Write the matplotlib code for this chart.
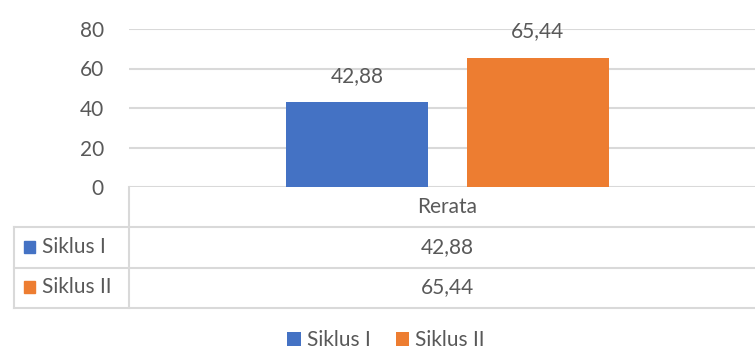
import matplotlib
matplotlib.use('Agg')
import matplotlib.pyplot as plt
from matplotlib.patches import Rectangle

# data
category = 'Rerata'
series = ['Siklus I', 'Siklus II']
values = [42.88, 65.44]
colors = ['#4472c4', '#ed7d31']
yticks = [0, 20, 40, 60, 80]

plt.rcParams['font.family'] = ['Lato', 'DejaVu Sans']
txt = '#595959'
grid = '#d9d9d9'
W, H = 755, 354
fs = 15


def fmt(v):
    return f'{v:.2f}'.replace('.', ',')


fig = plt.figure(figsize=(W / 100, H / 100), dpi=100)

# main bar area (right side runs past the picture edge, like the original crop)
ax = fig.add_axes([129 / W, 1 - 187 / H, (766 - 129) / W, (187 - 29) / H])
bw = 0.223
offs = [-0.142, 0.142]
bars = []
for s, v, c, o in zip(series, values, colors, offs):
    b = ax.bar(o, v, width=bw, color=c, label=s, zorder=3)
    bars.append(b)
    ax.text(o, v + 13.5, fmt(v), ha='center', va='center', fontsize=fs,
            color=txt, clip_on=False)
ax.set_xlim(-0.5, 0.5)
ax.set_ylim(0, 80)
ax.set_yticks(yticks)
ax.set_xticks([])
ax.tick_params(axis='y', length=0, pad=18, labelsize=fs, labelcolor=txt)
ax.grid(axis='y', color=grid, lw=1.5, zorder=0)
for sp in ax.spines.values():
    sp.set_visible(False)

# data table below the chart
tb = fig.add_axes([0, 0, 1, 1], facecolor='none')
tb.set_xlim(0, W)
tb.set_ylim(H, 0)
tb.axis('off')
rows = [227, 268, 308]
for y in rows:
    tb.plot([14, 780], [y, y], color=grid, lw=1.5, clip_on=False)
tb.plot([14, 14], [227, 308], color=grid, lw=1.5)
tb.plot([129, 129], [187, 308], color=grid, lw=1.5)
tb.text(447, 207, category, ha='center', va='center', fontsize=fs, color=txt)
for i, (s, v, c) in enumerate(zip(series, values, colors)):
    yc = 247 + i * 40
    tb.add_patch(Rectangle((24, yc - 6), 11, 12, color=c))
    tb.text(42, yc, s, ha='left', va='center', fontsize=fs, color=txt)
    tb.text(447, yc, fmt(v), ha='center', va='center', fontsize=fs, color=txt)

fig.legend(handles=[b[0] for b in bars], labels=series, loc='center',
           bbox_to_anchor=(386 / W, 1 - 340 / H), ncol=2, frameon=False,
           fontsize=fs, labelcolor=txt, handlelength=0.65, handleheight=0.65,
           handletextpad=0.3, columnspacing=1.2)

fig.savefig('out.png', dpi=100)
